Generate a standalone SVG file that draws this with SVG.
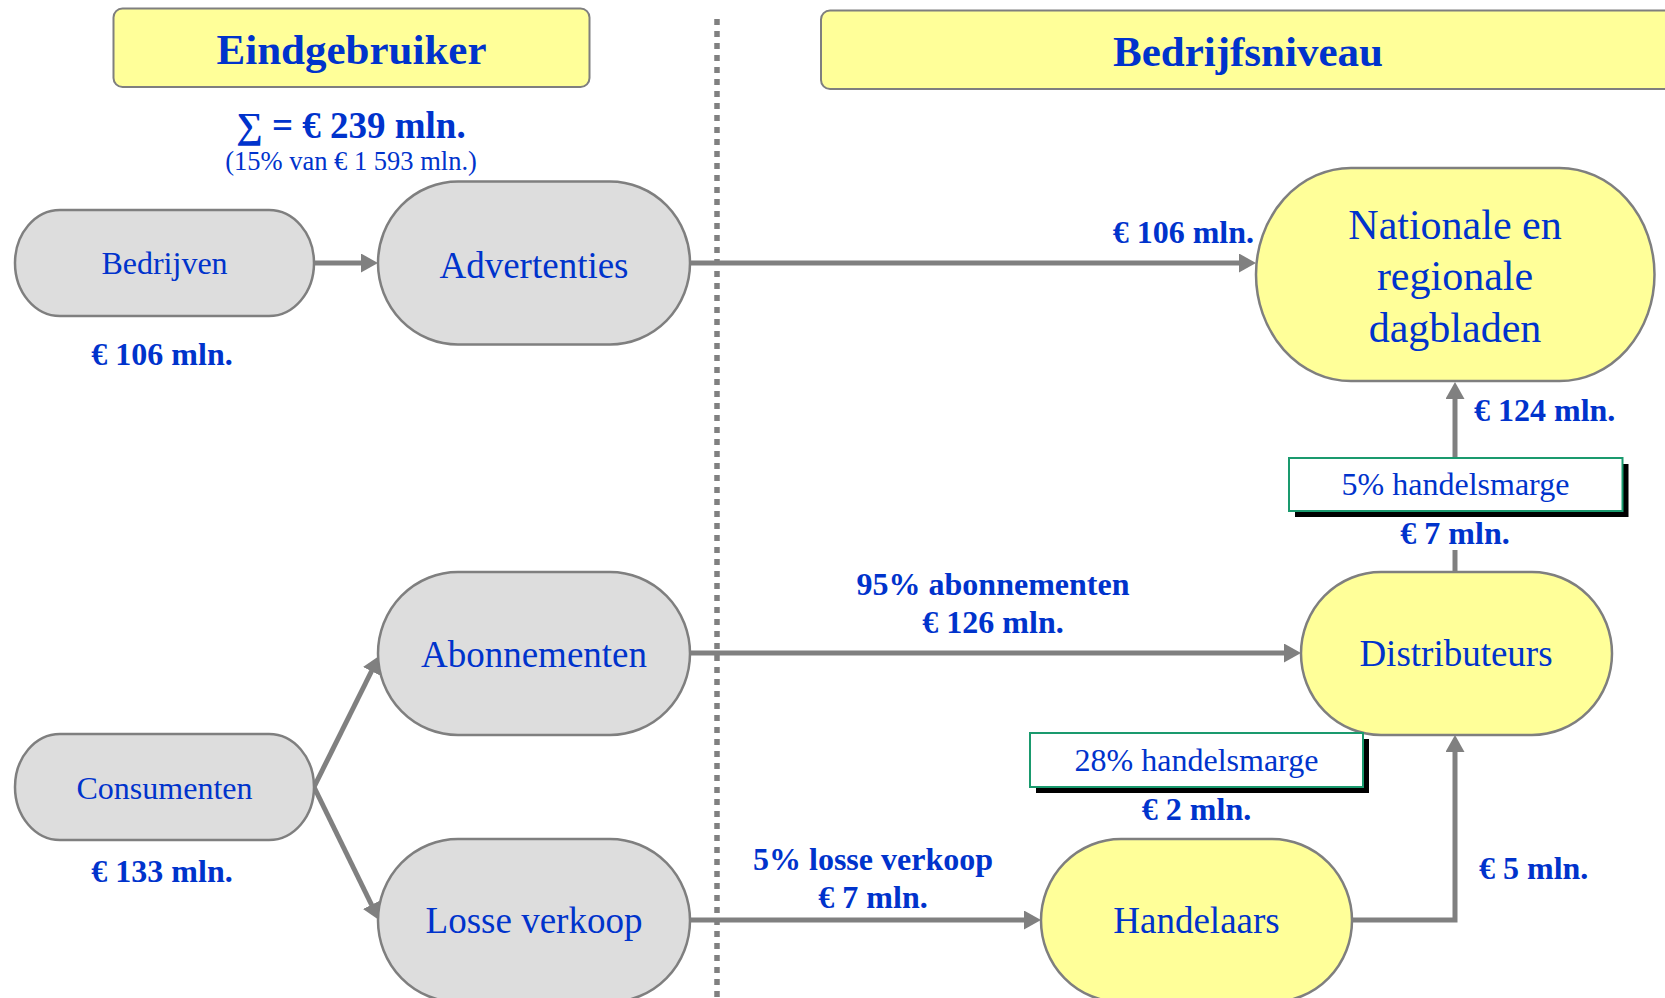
<svg xmlns="http://www.w3.org/2000/svg" width="1665" height="998" viewBox="0 0 1665 998">
<style>
text{font-family:"Liberation Serif","Times New Roman",serif;fill:#0033cc;text-anchor:middle}
.title{font-size:43px;font-weight:bold}
.big{font-size:37px}
.nat{font-size:42px}
.small{font-size:32px}
.lbl{font-size:32px;font-weight:bold}
.sub{font-size:26.5px}
.hdr{fill:#ffff99;stroke:#7f7f7f;stroke-width:2}
.grey{fill:#dddddd;stroke:#7f7f7f;stroke-width:2.5}
.yel{fill:#ffff99;stroke:#7f7f7f;stroke-width:2.5}
.marg{fill:#ffffff;stroke:#1a9a6e;stroke-width:2}
.shadow{fill:#000000}
.conn{fill:none;stroke:#808080;stroke-width:5}
.div{fill:none;stroke:#808080;stroke-width:5.5;stroke-dasharray:6 6}
</style>
<defs>
<marker id="ah" markerUnits="userSpaceOnUse" markerWidth="18" markerHeight="20" refX="7" refY="9.5" orient="auto">
<path d="M0,0 L17,9.5 L0,19 z" fill="#808080"/>
</marker>
</defs>
<rect width="1665" height="998" fill="#ffffff"/>
<line class="div" x1="717" y1="19" x2="717" y2="998"/>
<g id="hdr-eind">
<rect class="hdr" x="113.5" y="8.5" width="476" height="78.5" rx="9"/>
<text class="title" x="351.5" y="64">Eindgebruiker</text>
</g>
<g id="hdr-bedrijf">
<rect class="hdr" x="821" y="10.5" width="870" height="78.5" rx="9"/>
<text class="title" x="1248" y="66">Bedrijfsniveau</text>
</g>
<g id="sum">
<text x="351" y="138" style="font-size:37px;font-weight:bold">∑ = € 239 mln.</text>
<text class="sub" x="351" y="170">(15% van € 1 593 mln.)</text>
</g>
<g id="connectors">
<path class="conn" d="M315,263 H368" marker-end="url(#ah)"/>
<path class="conn" d="M690,263 H1246" marker-end="url(#ah)"/>
<path class="conn" d="M690,653 H1291" marker-end="url(#ah)"/>
<path class="conn" d="M690,920 H1031" marker-end="url(#ah)"/>
<path class="conn" d="M314,787 L374.6,665" marker-end="url(#ah)"/>
<path class="conn" d="M314,787 L374.6,911" marker-end="url(#ah)"/>
<path class="conn" d="M1352,920 H1455 V745" marker-end="url(#ah)"/>
<path class="conn" d="M1455,572 V550"/>
<path class="conn" d="M1455,458 V392" marker-end="url(#ah)"/>
</g>
<g id="bedrijven">
<rect class="grey" x="15" y="210" width="299" height="106" rx="45" ry="53"/>
<text class="small" x="164.5" y="274">Bedrijven</text>
<text class="lbl" x="162" y="365">€ 106 mln.</text>
</g>
<g id="advertenties">
<rect class="grey" x="378" y="181.5" width="312" height="163" rx="80" ry="81.5"/>
<text class="big" x="534" y="278">Advertenties</text>
</g>
<g id="consumenten">
<rect class="grey" x="15" y="734" width="299" height="106" rx="45" ry="53"/>
<text class="small" x="164.5" y="799">Consumenten</text>
<text class="lbl" x="162" y="882">€ 133 mln.</text>
</g>
<g id="abonnementen">
<rect class="grey" x="378" y="572" width="312" height="163" rx="80" ry="81.5"/>
<text class="big" x="534" y="667">Abonnementen</text>
</g>
<g id="losse-verkoop">
<rect class="grey" x="378" y="839" width="312" height="163" rx="80" ry="81.5"/>
<text class="big" x="534" y="933">Losse verkoop</text>
</g>
<g id="nationale">
<rect class="yel" x="1256" y="168" width="398.5" height="213" rx="95" ry="106.5"/>
<text class="nat" x="1455" y="239">Nationale en</text>
<text class="nat" x="1455" y="290">regionale</text>
<text class="nat" x="1455" y="342">dagbladen</text>
</g>
<g id="distributeurs">
<rect class="yel" x="1301" y="572" width="311" height="163" rx="80" ry="81.5"/>
<text class="big" x="1456" y="666">Distributeurs</text>
</g>
<g id="handelaars">
<rect class="yel" x="1041" y="839" width="311" height="163" rx="80" ry="81.5"/>
<text class="big" x="1196.5" y="933">Handelaars</text>
</g>
<g id="marge5">
<rect class="shadow" x="1295" y="464" width="333.5" height="53"/>
<rect class="marg" x="1289" y="458" width="333.5" height="53"/>
<text class="small" x="1455.5" y="495">5% handelsmarge</text>
</g>
<g id="marge28">
<rect class="shadow" x="1036" y="739" width="333" height="54"/>
<rect class="marg" x="1030" y="733" width="333" height="54"/>
<text class="small" x="1196.5" y="771">28% handelsmarge</text>
</g>
<g id="labels">
<text class="lbl" x="1254" y="243" style="text-anchor:end">€ 106 mln.</text>
<text class="lbl" x="1474" y="420.5" style="text-anchor:start">€ 124 mln.</text>
<text class="lbl" x="1455" y="544">€ 7 mln.</text>
<text class="lbl" x="993" y="595">95% abonnementen</text>
<text class="lbl" x="993" y="633">€ 126 mln.</text>
<text class="lbl" x="1196.5" y="820">€ 2 mln.</text>
<text class="lbl" x="1479" y="879" style="text-anchor:start">€ 5 mln.</text>
<text class="lbl" x="873" y="870">5% losse verkoop</text>
<text class="lbl" x="873" y="908">€ 7 mln.</text>
</g>
</svg>
